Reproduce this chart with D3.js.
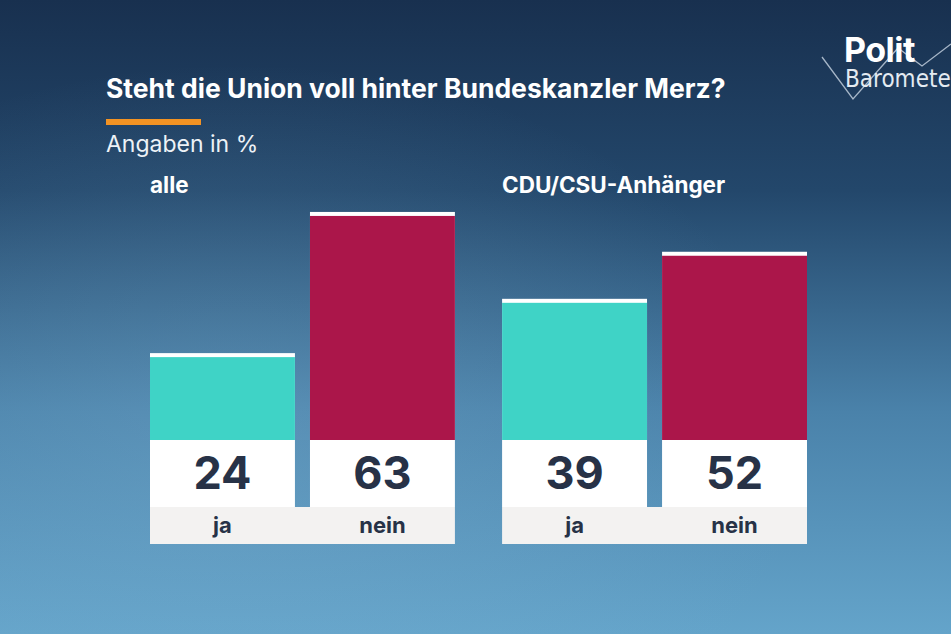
<!DOCTYPE html>
<html>
<head>
<meta charset="utf-8">
<script src="https://cdn.jsdelivr.net/npm/d3@7"></script>
<style>
  body { margin: 0; overflow: hidden; }
  svg { display: block; font-family: Inter, Roboto, "Liberation Sans", sans-serif; }
</style>
</head>
<body>
<div id="chart"></div>
<script>
// data
let groups = ["alle", "CDU/CSU-Anhänger"];
let answers = ["ja", "nein"];
let jaValues = [24, 39];
let neinValues = [63, 52];

let width = 951,
  height = 634;

let svg = d3.select("#chart")
  .append("svg")
  .attr("width", width)
  .attr("height", height);

let defs = svg.append("defs");

let bg = defs.append("linearGradient")
  .attr("id", "bg")
  .attr("x1", 0).attr("y1", 0).attr("x2", 0).attr("y2", 1);
bg.append("stop").attr("offset", "0%").attr("stop-color", "#18304f");
bg.append("stop").attr("offset", "30%").attr("stop-color", "#23476b");
bg.append("stop").attr("offset", "65%").attr("stop-color", "#4a82aa");
bg.append("stop").attr("offset", "100%").attr("stop-color", "#64a4ca");

let glow = defs.append("radialGradient")
  .attr("id", "glow")
  .attr("cx", 0.25).attr("cy", 0.7).attr("r", 0.6);
glow.append("stop").attr("offset", "0%").attr("stop-color", "#7fb3d3").attr("stop-opacity", 0.3);
glow.append("stop").attr("offset", "100%").attr("stop-color", "#7fb3d3").attr("stop-opacity", 0);

svg.append("rect").attr("width", width).attr("height", height).attr("fill", "url(#bg)");
svg.append("rect").attr("width", width).attr("height", height).attr("fill", "url(#glow)");

// logo
svg.append("polyline")
  .attr("points", "822,57 853,99 898,48 922,66 951,44")
  .attr("fill", "none")
  .attr("stroke", "#c9d6e3")
  .attr("stroke-width", 1.3)
  .attr("opacity", 0.8);
svg.append("text")
  .attr("x", 844).attr("y", 62)
  .attr("fill", "#fff")
  .attr("font-size", 34)
  .attr("font-weight", 700)
  .attr("letter-spacing", -0.5)
  .text("Polit");
svg.append("text")
  .attr("x", 845).attr("y", 87)
  .attr("fill", "#e4ebf2")
  .attr("font-size", 24)
  .attr("font-family", "'DejaVu Sans Condensed', 'DejaVu Sans', sans-serif")
  .attr("font-stretch", "condensed")
  .text("Barometer");

// title block
svg.append("text")
  .attr("x", 106).attr("y", 98)
  .attr("fill", "#fff")
  .attr("font-size", 26.5)
  .attr("font-weight", 700)
  .text("Steht die Union voll hinter Bundeskanzler Merz?");

svg.append("rect")
  .attr("x", 106).attr("y", 119)
  .attr("width", 95).attr("height", 6)
  .attr("fill", "#f39323");

svg.append("text")
  .attr("x", 106).attr("y", 152)
  .attr("fill", "#edf2f7")
  .attr("font-size", 23)
  .text("Angaben in %");

// scales
let groupX = d3.scaleBand()
  .domain(groups)
  .range([150, 807])
  .paddingInner(0.134);

let barX = d3.scaleBand()
  .domain(answers)
  .range([0, groupX.bandwidth()])
  .paddingInner(0.094);

let y = d3.scaleLinear()
  .domain([0, 100])
  .range([440, 78]);

let colors = d3.scaleOrdinal()
  .domain(answers)
  .range(["#3fd3c6", "#ab164a"]);

let data = [];
groups.forEach((g, i) => {
  data.push({ group: g, answer: "ja", value: jaValues[i] });
  data.push({ group: g, answer: "nein", value: neinValues[i] });
});

let g = svg.selectAll("g.group")
  .data(groups)
  .join("g")
  .attr("class", "group")
  .attr("transform", d => `translate(${groupX(d)},0)`);

g.append("text")
  .attr("x", 0).attr("y", 193)
  .attr("fill", "#fff")
  .attr("font-size", 22.5)
  .attr("font-weight", 700)
  .text(d => d);

// label strip
g.append("rect")
  .attr("x", 0).attr("y", 507)
  .attr("width", groupX.bandwidth())
  .attr("height", 37)
  .attr("fill", "#f3f2f1");

let bars = g.selectAll("g.bar")
  .data(d => data.filter(e => e.group === d))
  .join("g")
  .attr("class", "bar")
  .attr("transform", d => `translate(${barX(d.answer)},0)`);

// white cap
bars.append("rect")
  .attr("x", 0)
  .attr("y", d => y(d.value))
  .attr("width", barX.bandwidth())
  .attr("height", d => y(0) - y(d.value))
  .attr("fill", "#fff");

bars.append("rect")
  .attr("x", 0)
  .attr("y", d => y(d.value) + 4)
  .attr("width", barX.bandwidth())
  .attr("height", d => y(0) - y(d.value) - 4)
  .attr("fill", d => colors(d.answer));

// value box
bars.append("rect")
  .attr("x", 0).attr("y", 440)
  .attr("width", barX.bandwidth())
  .attr("height", 67)
  .attr("fill", "#fff");

bars.append("text")
  .attr("x", barX.bandwidth() / 2)
  .attr("y", 489)
  .attr("text-anchor", "middle")
  .attr("fill", "#273247")
  .attr("font-size", 45)
  .attr("font-weight", 700)
  .text(d => d.value);

bars.append("text")
  .attr("x", barX.bandwidth() / 2)
  .attr("y", 533)
  .attr("text-anchor", "middle")
  .attr("fill", "#273247")
  .attr("font-size", 22)
  .attr("font-weight", 700)
  .text(d => d.answer);
</script>
</body>
</html>
